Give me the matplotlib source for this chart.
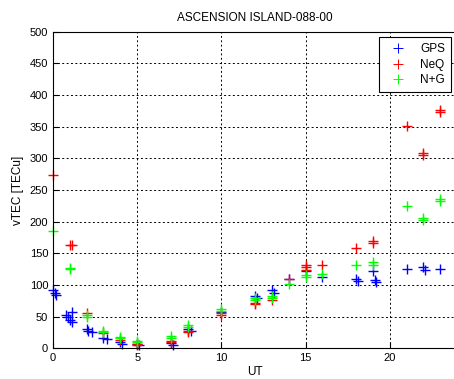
import matplotlib
matplotlib.use('Agg')
import matplotlib.pyplot as plt

plt.rcParams['font.family'] = ['Liberation Sans', 'DejaVu Sans']

# GPS (blue)
gps_x = [0.0, 0.1, 0.15, 0.8, 0.9, 1.0, 1.1, 1.15, 2.0, 2.1, 2.3, 3.0, 3.2, 4.0, 4.1,
         5.0, 5.1, 7.0, 7.1, 8.0, 8.2, 10.0, 12.0, 12.1, 13.0, 13.1, 14.0, 15.0, 16.0,
         18.0, 18.1, 19.0, 19.1, 19.2, 21.0, 22.0, 22.1, 23.0]
gps_y = [92, 88, 85, 52, 50, 45, 58, 42, 30, 28, 25, 17, 15, 10, 7,
         7, 5, 8, 5, 30, 28, 57, 83, 80, 92, 88, 110, 122, 112,
         110, 106, 122, 108, 105, 125, 128, 123, 126]

# NeQ (red)
neq_x = [0, 1, 1.1, 2, 3, 4, 5, 5, 7, 7, 8, 8, 10, 10, 12, 12, 13, 14, 15, 15, 15, 16,
         18, 19, 19, 21, 22, 22, 23, 23]
neq_y = [274, 163, 163, 55, 24, 13, 5, 7, 10, 12, 26, 28, 53, 55, 70, 72, 76, 109, 124, 128, 131, 132,
         158, 166, 169, 351, 306, 309, 374, 377]

# N+G (green)
ng_x = [0, 1, 1, 2, 2, 3, 3, 4, 4, 5, 5, 7, 7, 8, 8, 10, 10, 12, 12, 13, 13, 14, 15, 15, 16,
        18, 19, 19, 21, 22, 22, 23, 23]
ng_y = [186, 125, 127, 50, 52, 26, 28, 16, 18, 10, 12, 16, 19, 34, 37, 59, 62, 77, 80, 79, 82, 101, 113, 116, 117,
        131, 131, 136, 225, 203, 206, 233, 236]

fig = plt.figure(figsize=(4.54, 3.79), dpi=100)
ax = fig.add_axes([0.1167, 0.081, 0.89, 0.835])

ax.plot(gps_x, gps_y, '+', color='blue', markersize=7.5, mew=1.0, label='GPS', clip_on=False)
ax.plot(neq_x, neq_y, '+', color='red', markersize=7.5, mew=1.0, label='NeQ', clip_on=False)
ax.plot(ng_x, ng_y, '+', color='#00ff00', markersize=7.5, mew=1.0, label='N+G', clip_on=False)

ax.set_xlim(0, 24)
ax.set_ylim(0, 500)
ax.set_xticks([0, 5, 10, 15, 20])
ax.set_yticks(range(0, 501, 50))
ax.grid(True, color='black', linestyle=(0, (2, 2.5)), linewidth=0.7)
ax.tick_params(direction='in', labelsize=8, length=4)

ax.set_title('ASCENSION ISLAND-088-00', fontsize=8.5, pad=8)
ax.set_xlabel('UT', fontsize=8.5, labelpad=2)
ax.set_ylabel('vTEC [TECu]', fontsize=8.5, labelpad=4)

leg = ax.legend(loc='upper right', bbox_to_anchor=(0.985, 0.983), borderaxespad=0,
                fontsize=8.5, fancybox=False, edgecolor='black', framealpha=1,
                handlelength=2.2, handletextpad=0.8, labelspacing=0.3, borderpad=0.5,
                markerscale=0.9)
leg.get_frame().set_linewidth(0.8)
for h in leg.legend_handles:
    h.set_markeredgewidth(0.7)

fig.savefig('out.png', dpi=100)
